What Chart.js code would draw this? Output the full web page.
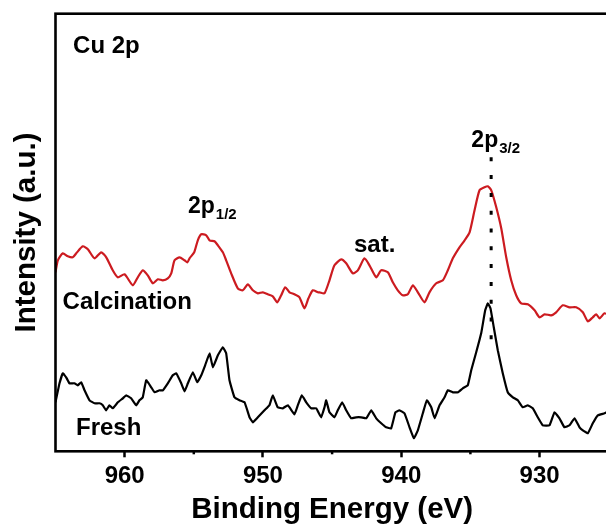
<!DOCTYPE html>
<html>
<head>
<meta charset="utf-8">
<script src="https://cdn.jsdelivr.net/npm/chart.js@4.4.1/dist/chart.umd.min.js"></script>
<style>
  html, body { margin: 0; padding: 0; overflow: hidden; background: #fff; }
  canvas { display: block; }
</style>
</head>
<body>
<canvas id="xps" width="612" height="531"></canvas>
<script>
// Cu 2p XPS spectra
var calcEnergy = [965.00, 964.83, 964.47, 964.11, 963.75, 963.50, 963.03, 962.66, 962.18, 961.70,
  961.33, 960.86, 960.50, 960.01, 959.41, 959.05, 958.69, 958.33, 957.96, 957.60,
  957.24, 956.88, 956.63, 956.39, 956.03, 955.67, 955.46, 955.31, 954.97, 954.71,
  954.46, 954.10, 953.86, 953.50, 953.26, 952.90, 952.66, 952.30, 951.82, 951.46,
  951.09, 950.73, 950.37, 950.01, 949.65, 949.29, 948.97, 948.68, 948.39, 948.08,
  947.72, 947.36, 947.00, 946.71, 946.39, 946.03, 945.91, 945.55, 945.19, 944.83,
  944.34, 943.98, 943.50, 943.14, 942.66, 942.30, 941.81, 941.45, 940.97, 940.61,
  940.25, 939.89, 939.53, 939.16, 938.80, 938.32, 937.96, 937.47, 936.99, 936.63,
  936.27, 935.79, 935.42, 935.06, 934.70, 934.34, 933.98, 933.74, 933.49, 933.13,
  932.77, 932.41, 932.05, 931.69, 931.33, 930.85, 930.36, 930.00, 929.64, 929.16,
  928.80, 928.32, 927.83, 927.35, 926.87, 926.51, 926.15, 925.90, 925.66, 925.30, 925.00];
var calcIntensity = [179, 191, 198, 195, 194, 198, 205, 202, 193, 199,
  194, 181, 174, 177, 166, 174, 181, 176, 168, 172,
  171, 173, 178, 191, 194, 191, 189, 193, 199, 211,
  217, 216, 211, 210, 206, 199, 191, 178, 163, 161,
  167, 161, 158, 159, 157, 155, 149, 156, 164, 159,
  157, 154, 143, 153, 161, 159, 159, 158, 171, 186,
  192, 188, 178, 181, 193, 186, 174, 181, 179, 169,
  161, 156, 157, 166, 159, 149, 159, 168, 171, 181,
  193, 204, 211, 219, 241, 261, 264, 265, 261, 244,
  223, 194, 171, 156, 148, 147, 141, 134, 137, 136,
  139, 146, 144, 144, 139, 130, 134, 137, 133, 138, 136];

var freshEnergy = [965.00, 964.71, 964.47, 964.23, 963.99, 963.63, 963.39, 963.14, 962.90, 962.54,
  962.18, 961.82, 961.58, 961.34, 961.10, 960.86, 960.49, 960.13, 959.89, 959.53,
  959.16, 958.93, 958.69, 958.44, 958.08, 957.84, 957.48, 957.24, 956.88, 956.52,
  956.27, 955.91, 955.67, 955.43, 955.07, 954.75, 954.46, 954.18, 953.86, 953.62,
  953.26, 952.90, 952.66, 952.42, 952.06, 951.70, 951.33, 950.97, 950.73, 950.37,
  949.89, 949.53, 949.29, 948.93, 948.56, 948.20, 947.72, 947.48, 947.19, 946.87,
  946.51, 946.15, 945.79, 945.55, 945.43, 945.19, 944.83, 944.59, 944.27, 943.98,
  943.62, 943.26, 942.90, 942.53, 942.17, 941.81, 941.45, 941.09, 940.73, 940.42,
  940.13, 939.77, 939.40, 939.09, 938.80, 938.44, 938.15, 937.83, 937.59, 937.23,
  936.87, 936.63, 936.27, 935.91, 935.55, 935.19, 934.94, 934.58, 934.22, 933.93,
  933.74, 933.55, 933.31, 933.02, 932.66, 932.30, 931.93, 931.57, 931.21, 930.85,
  930.49, 930.13, 929.77, 929.28, 928.92, 928.56, 928.20, 927.83, 927.47, 927.11,
  926.87, 926.51, 926.15, 925.79, 925.30, 925.00];
var freshIntensity = [49, 68, 78, 74, 68, 68, 66, 69, 61, 51,
  48, 48, 46, 41, 46, 43, 49, 53, 56, 53,
  46, 51, 54, 71, 64, 59, 61, 61, 68, 76,
  78, 68, 60, 68, 79, 69, 76, 86, 98, 84,
  96, 104, 98, 71, 54, 51, 49, 34, 29, 34,
  41, 46, 56, 44, 43, 46, 37, 46, 56, 49,
  43, 43, 34, 44, 51, 39, 34, 41, 49, 41,
  33, 34, 34, 33, 41, 33, 28, 24, 23, 39,
  41, 38, 24, 13, 21, 38, 51, 44, 33, 46,
  54, 61, 59, 59, 63, 66, 81, 99, 118, 141,
  148, 143, 124, 101, 78, 59, 54, 51, 44, 46,
  43, 34, 26, 26, 39, 33, 24, 26, 33, 24,
  21, 18, 28, 36, 38, 40];

var seriesNames = ["Calcination", "Fresh"];
var xTickValues = [960, 950, 940, 930];
var peakEnergy = 933.5;

function toPoints(xs, ys) {
  return xs.map(function (x, i) { return { x: x, y: ys[i] }; });
}

var FONT = '"Liberation Sans", Arial, sans-serif';

// text labels inside the frame, placed in data units
var notes = [
  { text: "Cu 2p", e: 963.73, v: 398, size: 24 },
  { text: seriesNames[0], e: 964.49, v: 142, size: 24 },
  { text: seriesNames[1], e: 963.52, v: 16, size: 24 },
  { text: "sat.", e: 943.42, v: 199.5, size: 24 },
  { text: "2p", sub: "1/2", e: 955.42, v: 238, size: 23 },
  { text: "2p", sub: "3/2", e: 934.93, v: 304.5, size: 23 }
];

var decorations = {
  id: 'decorations',
  afterDraw: function (chart) {
    var ctx = chart.ctx, a = chart.chartArea;
    var xs = chart.scales.x, ys = chart.scales.y;
    ctx.save();
    // dotted marker at the 2p3/2 peak
    ctx.strokeStyle = '#000';
    ctx.lineWidth = 3;
    ctx.setLineDash([4, 13.8]);
    ctx.beginPath();
    var px = xs.getPixelForValue(peakEnergy);
    ctx.moveTo(px, ys.getPixelForValue(294));
    ctx.lineTo(px, ys.getPixelForValue(110));
    ctx.stroke();
    ctx.setLineDash([]);

    // short minor ticks
    ctx.lineWidth = 2.5;
    for (var e = 935; e < 965; e += 10) {
      var tx = xs.getPixelForValue(e);
      ctx.beginPath();
      ctx.moveTo(tx, a.bottom);
      ctx.lineTo(tx, a.bottom + 3);
      ctx.stroke();
    }

    // frame
    ctx.lineWidth = 2.6;
    ctx.strokeRect(a.left, a.top, a.right - a.left, a.bottom - a.top);

    // labels
    ctx.fillStyle = '#000';
    ctx.textBaseline = 'alphabetic';
    ctx.textAlign = 'left';
    notes.forEach(function (n) {
      var x = xs.getPixelForValue(n.e), y = ys.getPixelForValue(n.v);
      ctx.font = 'bold ' + n.size + 'px ' + FONT;
      ctx.fillText(n.text, x, y);
      if (n.sub) {
        var w = ctx.measureText(n.text).width;
        ctx.font = 'bold 15px ' + FONT;
        ctx.fillText(n.sub, x + w + 1, y + 6);
      }
    });
    ctx.restore();
  }
};

var myChart = new Chart(document.getElementById("xps"), {
  type: 'line',
  data: {
    datasets: [
      {
        label: seriesNames[0],
        data: toPoints(calcEnergy, calcIntensity),
        borderColor: "#cc1b20",
        borderWidth: 2.2,
        pointRadius: 0,
        tension: 0.2,
        fill: false
      },
      {
        label: seriesNames[1],
        data: toPoints(freshEnergy, freshIntensity),
        borderColor: "#000000",
        borderWidth: 2.2,
        pointRadius: 0,
        tension: 0.1,
        fill: false
      }
    ]
  },
  options: {
    responsive: false,
    animation: false,
    devicePixelRatio: 1,
    layout: { padding: { top: 13.7, right: 3.3, left: 0, bottom: 0 } },
    plugins: { legend: { display: false }, tooltip: { enabled: false } },
    scales: {
      x: {
        type: 'linear',
        reverse: true,
        min: 925,
        max: 965,
        afterFit: function (scale) { scale.height = 79.7; },
        afterBuildTicks: function (scale) {
          scale.ticks = xTickValues.map(function (v) { return { value: v }; });
        },
        ticks: {
          color: '#000',
          padding: 5,
          maxRotation: 0,
          font: { family: FONT, size: 24, weight: 'bold' }
        },
        grid: {
          display: true,
          drawOnChartArea: false,
          drawTicks: true,
          tickLength: 6,
          tickWidth: 2.5,
          tickColor: '#000'
        },
        border: { display: false },
        title: {
          display: true,
          text: 'Binding Energy (eV)',
          color: '#000',
          padding: { top: 0, bottom: 3 },
          font: { family: FONT, size: 29.5, weight: 'bold' }
        }
      },
      y: {
        min: 0,
        max: 437.6,
        afterFit: function (scale) { scale.width = 55.5; },
        ticks: { display: false },
        grid: { display: false },
        border: { display: false },
        title: {
          display: true,
          text: 'Intensity (a.u.)',
          color: '#000',
          padding: { top: 9, bottom: 0 },
          font: { family: FONT, size: 29.5, weight: 'bold' }
        }
      }
    }
  },
  plugins: [decorations]
});
</script>
</body>
</html>
